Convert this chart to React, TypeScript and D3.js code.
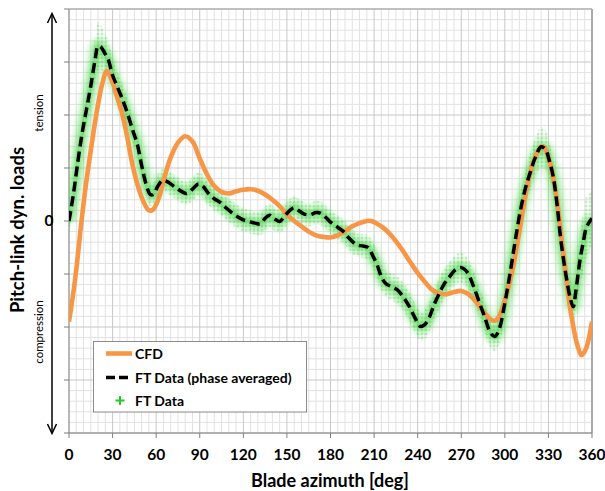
import React from "react";
import * as d3 from "d3";

// CFD prediction of the pitch-link dynamic load (arbitrary units, major grid = 1)
const cfdAzimuth = [0, 3, 5.5, 8, 11, 14, 17, 20, 23, 26, 30, 33, 37, 40, 43, 47, 51, 55, 58, 62, 66, 70, 75, 80, 85, 90, 95, 100, 105, 110, 115, 120, 125, 130, 135, 140, 145, 150, 155, 160, 165, 170, 175, 180, 185, 190, 195, 200, 205, 208, 212, 216, 220, 225, 230, 235, 240, 245, 250, 255, 260, 265, 270, 275, 280, 285, 290, 293, 296, 300, 305, 310, 315, 320, 325, 327, 330, 335, 340, 345, 350, 353, 356, 360];
const cfdLoad = [-1.9, -1.35, -0.8, -0.15, 0.55, 1.15, 1.7, 2.2, 2.6, 2.83, 2.62, 2.35, 1.98, 1.6, 1.15, 0.7, 0.38, 0.2, 0.22, 0.45, 0.85, 1.2, 1.48, 1.6, 1.5, 1.18, 0.88, 0.66, 0.55, 0.52, 0.56, 0.59, 0.6, 0.57, 0.5, 0.4, 0.28, 0.12, 0.0, -0.1, -0.2, -0.27, -0.3, -0.31, -0.27, -0.19, -0.1, -0.04, 0.0, 0.0, -0.05, -0.12, -0.22, -0.38, -0.57, -0.78, -0.98, -1.15, -1.3, -1.37, -1.38, -1.34, -1.32, -1.38, -1.52, -1.7, -1.85, -1.88, -1.8, -1.5, -0.95, -0.2, 0.6, 1.15, 1.4, 1.4, 1.2, 0.55, -0.55, -1.65, -2.35, -2.53, -2.4, -1.9];

// Flight-test data, phase averaged
const ftAzimuth = [0, 3, 6, 9, 12, 15, 18, 20, 22, 25, 27, 30, 33, 36, 40, 44, 47, 50, 53, 56, 58, 61, 64, 67, 70, 74, 78, 81, 85, 89, 92, 96, 100, 104, 108, 112, 116, 120, 124, 128, 132, 135, 138, 141, 145, 148, 152, 155, 158, 162, 166, 170, 173, 177, 180, 185, 189, 193, 198, 202, 206, 209, 212, 215, 218, 222, 226, 230, 234, 238, 242, 245, 248, 251, 255, 258, 262, 266, 270, 274, 278, 282, 286, 290, 293, 296, 300, 303.5, 307, 310.4, 314, 317.3, 321, 325, 328, 331, 333.3, 336, 338, 340, 342.6, 345, 347, 349, 351.7, 354, 356.3, 360];
const ftLoad = [0.0, 0.5, 1.1, 1.65, 2.1, 2.55, 3.05, 3.3, 3.28, 3.15, 3.05, 2.75, 2.55, 2.35, 2.05, 1.7, 1.45, 1.05, 0.7, 0.5, 0.5, 0.65, 0.76, 0.75, 0.7, 0.62, 0.55, 0.52, 0.6, 0.7, 0.66, 0.52, 0.42, 0.35, 0.25, 0.16, 0.08, 0.02, -0.01, -0.04, -0.05, 0.05, 0.11, 0.05, -0.01, 0.08, 0.2, 0.25, 0.2, 0.13, 0.12, 0.16, 0.15, 0.06, -0.02, -0.12, -0.2, -0.33, -0.45, -0.47, -0.5, -0.65, -0.82, -1.05, -1.18, -1.24, -1.3, -1.43, -1.6, -1.82, -1.99, -1.95, -1.82, -1.6, -1.36, -1.2, -1.05, -0.92, -0.88, -0.96, -1.2, -1.5, -1.8, -2.1, -2.18, -2.05, -1.55, -1.0, -0.4, 0.15, 0.6, 0.9, 1.2, 1.4, 1.35, 1.1, 0.84, 0.3, -0.23, -0.65, -1.11, -1.45, -1.62, -1.3, -0.74, -0.4, -0.11, 0.05];

// Half-width of the raw flight-test scatter around the phase average
const spreadAzimuth = [0, 10, 20, 30, 50, 100, 200, 240, 270, 300, 325, 340, 350, 355, 360];
const spreadHalf = [0.25, 0.25, 0.45, 0.3, 0.22, 0.22, 0.22, 0.28, 0.28, 0.28, 0.38, 0.3, 0.4, 0.6, 0.5];

const azimuthTicks = [0, 30, 60, 90, 120, 150, 180, 210, 240, 270, 300, 330, 360];
const loadTicks = [-4, -3, -2, -1, 0, 1, 2, 3, 4];

const W = 605;
const H = 491;
const FONT = "Lato, 'Open Sans', sans-serif";

export default function App() {
  const x = d3.scaleLinear().domain([0, 360]).range([69, 592]);
  const y = d3.scaleLinear().domain([-4, 4]).range([433, 9]);
  const spread = d3.scaleLinear().domain(spreadAzimuth).range(spreadHalf);

  const cfdPts: [number, number][] = cfdAzimuth.map((a, i) => [a, cfdLoad[i]]);
  const ftPts: [number, number][] = ftAzimuth.map((a, i) => [a, ftLoad[i]]);

  const line = d3
    .line<[number, number]>()
    .x((d) => x(d[0]))
    .y((d) => y(d[1]))
    .curve(d3.curveCatmullRom.alpha(0.5));

  const band = d3
    .area<[number, number]>()
    .x((d) => x(d[0]))
    .y0((d) => y(d[1] - spread(d[0])))
    .y1((d) => y(d[1] + spread(d[0])))
    .curve(d3.curveCatmullRom.alpha(0.5));

  const minorX = d3.range(0, 361, 5).filter((v) => v % 30 !== 0);
  const minorY = d3.range(-40, 41, 2).filter((v) => v % 10 !== 0).map((v) => v / 10);

  const left = x(0);
  const right = x(360);
  const top = y(4);
  const bottom = y(-4);

  return (
    <svg
      width={W}
      height={H}
      viewBox={`0 0 ${W} ${H}`}
      style={{ position: "absolute", left: 0, top: 0, background: "#fff" }}
    >
      <defs>
        <pattern id="ftPlus" width="4" height="4" patternUnits="userSpaceOnUse">
          <path d="M0.5,2H3.5M2,0.5V3.5" stroke="#22d022" strokeWidth="0.8" />
        </pattern>
        <filter id="soft" x="-5%" y="-5%" width="110%" height="110%">
          <feGaussianBlur stdDeviation="2.2" />
        </filter>
        <filter id="softer" x="-5%" y="-5%" width="110%" height="110%">
          <feGaussianBlur stdDeviation="0.6" />
        </filter>
        <clipPath id="plotClip">
          <rect x={left} y={top} width={right - left} height={bottom - top} />
        </clipPath>
      </defs>

      {/* grid */}
      <g>
        {minorX.map((v) => (
          <line key={`mx${v}`} x1={x(v)} x2={x(v)} y1={top} y2={bottom} stroke="#e2e2e2" strokeWidth={1} />
        ))}
        {minorY.map((v) => (
          <line key={`my${v}`} x1={left} x2={right} y1={y(v)} y2={y(v)} stroke="#e2e2e2" strokeWidth={1} />
        ))}
        {azimuthTicks.map((v) => (
          <line key={`Mx${v}`} x1={x(v)} x2={x(v)} y1={top} y2={bottom} stroke="#c8c8c8" strokeWidth={1} />
        ))}
        {loadTicks.map((v) => (
          <line key={`My${v}`} x1={left} x2={right} y1={y(v)} y2={y(v)} stroke="#c8c8c8" strokeWidth={1} />
        ))}
      </g>

      {/* plot frame */}
      <line x1={left} x2={right} y1={top} y2={top} stroke="#b4b4b4" strokeWidth={1.5} />
      <line x1={right} x2={right} y1={top} y2={bottom} stroke="#aaaaaa" strokeWidth={2} />
      <line x1={left} x2={left} y1={top} y2={bottom} stroke="#8c8c8c" strokeWidth={1} />
      <line x1={left} x2={right} y1={bottom} y2={bottom} stroke="#7f7f7f" strokeWidth={1} />
      {azimuthTicks.map((v) => (
        <line key={`tx${v}`} x1={x(v)} x2={x(v)} y1={bottom} y2={bottom + 5} stroke="#7f7f7f" strokeWidth={1} />
      ))}
      {loadTicks.map((v) => (
        <line key={`ty${v}`} x1={left - 5} x2={left} y1={y(v)} y2={y(v)} stroke="#7f7f7f" strokeWidth={1} />
      ))}

      {/* FT data scatter */}
      <g clipPath="url(#plotClip)">
        <path d={line(ftPts) ?? ""} fill="none" stroke="#5be05b" strokeWidth={18} strokeOpacity={0.22} filter="url(#soft)" />
        <path d={band(ftPts) ?? ""} fill="url(#ftPlus)" opacity={0.45} filter="url(#softer)" />
        <path d={line(ftPts) ?? ""} fill="none" stroke="#22cc22" strokeWidth={8} strokeOpacity={0.45} filter="url(#soft)" />
      </g>

      {/* CFD */}
      <g clipPath="url(#plotClip)">
        <path d={line(cfdPts) ?? ""} fill="none" stroke="#f79646" strokeWidth={4.6} strokeLinejoin="round" />
      </g>

      {/* FT phase averaged */}
      <g clipPath="url(#plotClip)">
        <path d={line(ftPts) ?? ""} fill="none" stroke="#000" strokeWidth={3.5} strokeDasharray="10,5" />
      </g>

      {/* x tick labels */}
      {azimuthTicks.map((v) => (
        <text key={`lx${v}`} x={x(v)} y={460} textAnchor="middle" fontFamily={FONT} fontWeight={700} fontSize={15.5} fill="#000">
          {v}
        </text>
      ))}
      <text x={330} y={487} textAnchor="middle" fontFamily={FONT} fontWeight={700} fontSize={18} fill="#000">
        Blade azimuth [deg]
      </text>

      {/* y axis annotation */}
      <text x={49} y={y(0) + 5} textAnchor="middle" fontFamily={FONT} fontWeight={700} fontSize={15.5} fill="#000">
        0
      </text>
      <line x1={52} x2={52} y1={14} y2={433} stroke="#000" strokeWidth={1.5} />
      <path d="M47.5,23 L52,13.5 L56.5,23" fill="none" stroke="#000" strokeWidth={1.5} />
      <path d="M47.5,424 L52,433.5 L56.5,424" fill="none" stroke="#000" strokeWidth={1.5} />
      <text transform={`translate(43,113) rotate(-90)`} textAnchor="middle" fontFamily={FONT} fontSize={11.5} fill="#000">
        tension
      </text>
      <text transform={`translate(43,332) rotate(-90)`} textAnchor="middle" fontFamily={FONT} fontSize={11.5} fill="#000">
        compression
      </text>
      <text transform={`translate(24,230) rotate(-90)`} textAnchor="middle" fontFamily={FONT} fontWeight={700} fontSize={18.5} fill="#000">
        Pitch-link dyn. loads
      </text>

      {/* legend */}
      <g>
        <rect x={93.5} y={341.5} width={213} height={70.5} fill="#fff" stroke="#8c8c8c" strokeWidth={1} />
        <line x1={106} x2={132} y1={353.5} y2={353.5} stroke="#f79646" strokeWidth={4.6} />
        <text x={135} y={358.5} fontFamily={FONT} fontWeight={700} fontSize={14} fill="#000">CFD</text>
        <line x1={106} x2={132} y1={377.5} y2={377.5} stroke="#000" strokeWidth={3.5} strokeDasharray="9,4" />
        <text x={135} y={382.5} fontFamily={FONT} fontWeight={700} fontSize={14} fill="#000">FT Data (phase averaged)</text>
        <path d="M115.5,400.5H124.5M120,396V405" stroke="#1fcc1f" strokeWidth={2} />
        <text x={135} y={406} fontFamily={FONT} fontWeight={700} fontSize={14} fill="#000">FT Data</text>
      </g>
    </svg>
  );
}
